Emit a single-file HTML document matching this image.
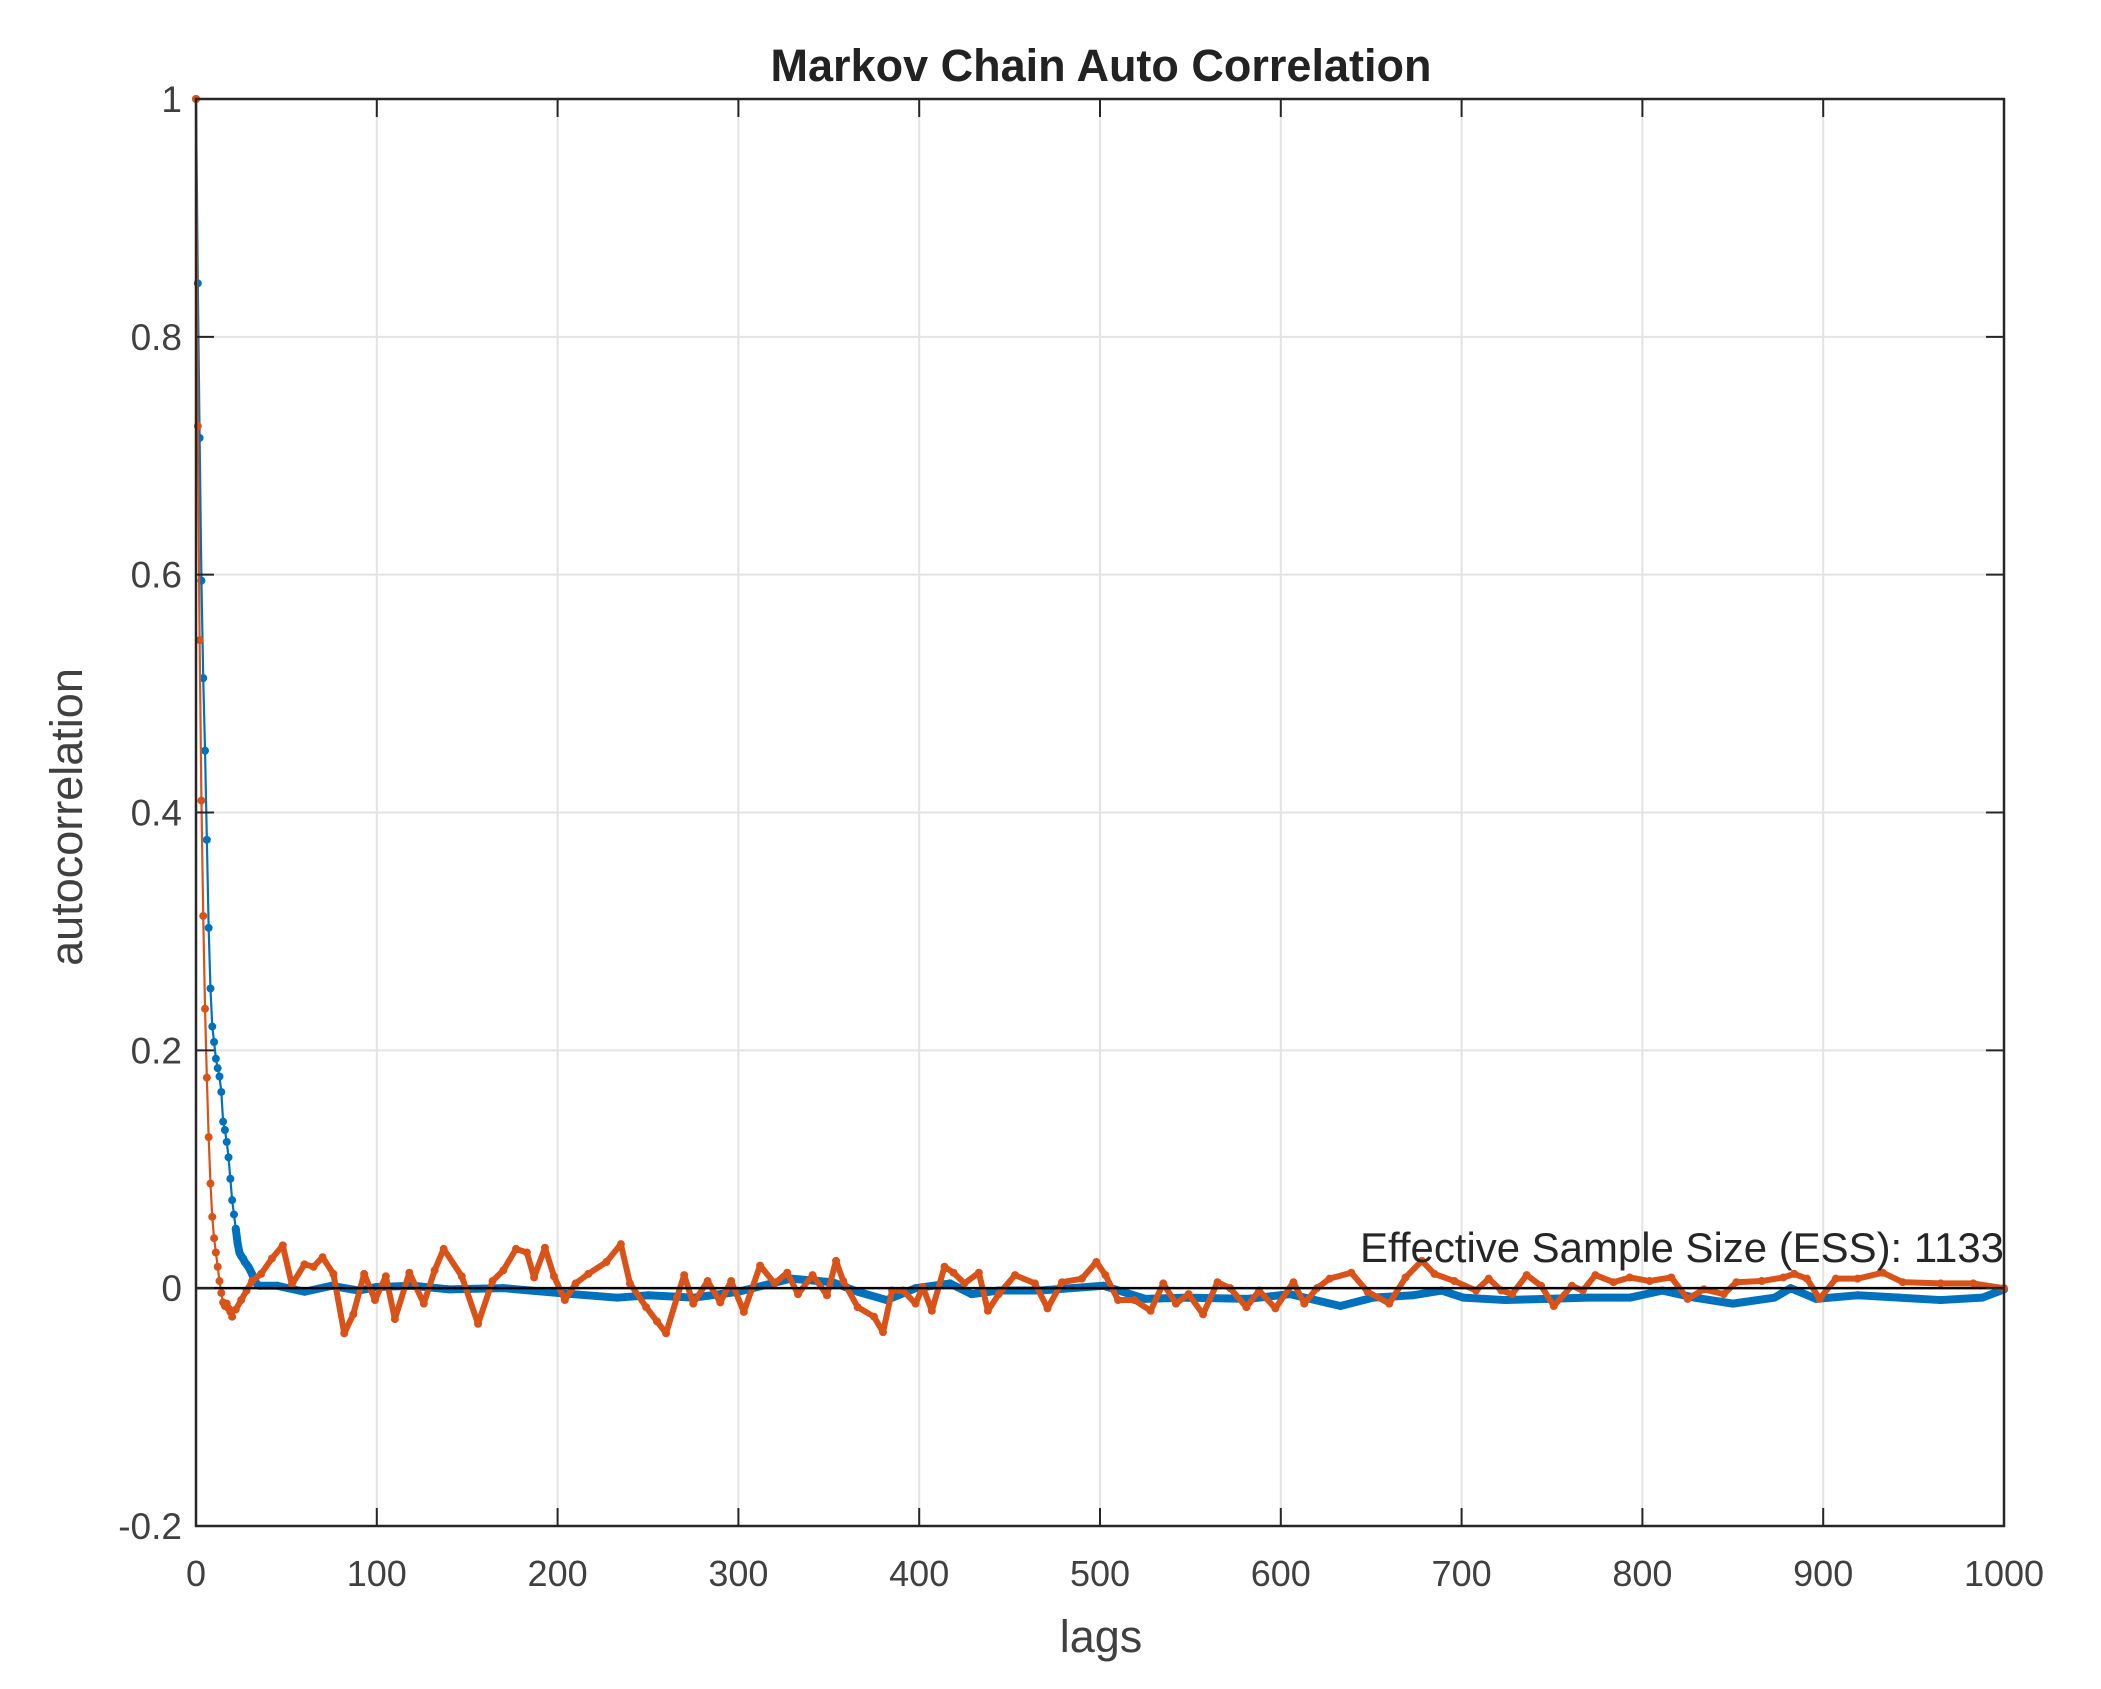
<!DOCTYPE html>
<html><head><meta charset="utf-8"><style>
html,body{margin:0;padding:0;background:#fff;}
svg{display:block;font-family:"Liberation Sans",Arial,sans-serif;}
</style></head><body>
<svg id="chart" width="2101" height="1689" viewBox="0 0 2101 1689" xmlns="http://www.w3.org/2000/svg">
<rect x="0" y="0" width="2101" height="1689" fill="#fff"/>
<g id="grid"></g>
<g id="series"></g>
<g id="axes"></g>
<text x="1101" y="81" text-anchor="middle" font-size="45" font-weight="bold" fill="#222">Markov Chain Auto Correlation</text>
<text x="1101" y="1652" text-anchor="middle" font-size="45" fill="#404040">lags</text>
<text x="0" y="0" transform="translate(82,817) rotate(-90)" text-anchor="middle" font-size="45" fill="#404040">autocorrelation</text>
<text x="2004" y="1262" text-anchor="end" font-size="42" textLength="644" lengthAdjust="spacingAndGlyphs" fill="#262626">Effective Sample Size (ESS): 1133</text>
</svg>
<script>
const xTicks = [0,100,200,300,400,500,600,700,800,900,1000];
const yTicks = [-0.2,0,0.2,0.4,0.6,0.8,1];
const yTickLabels = ["-0.2","0","0.2","0.4","0.6","0.8","1"];
const blueLags = [0,1,2,3,4,5,6,7,8,9,10,11,12,13,14,15,16,17,18,19,20,21,22,23,24,25,26,27,28,29,30,31,32,33,34,35,45,60,75,90,100,120,140,170,200,233,250,275,300,329,352,366,382,398,417,429,444,467,502,525,548,582,605,633,651,673,689,701,724,747,770,793,811,829,850,873,882,896,919,942,965,988,1000];
const blueValues = [1,0.845,0.715,0.595,0.513,0.452,0.377,0.303,0.252,0.22,0.207,0.193,0.185,0.178,0.165,0.14,0.133,0.123,0.11,0.092,0.074,0.062,0.05,0.038,0.03,0.027,0.025,0.022,0.02,0.018,0.015,0.012,0.008,0.005,0.003,0.002,0.002,-0.003,0.002,-0.002,0.001,0.002,-0.001,0,-0.004,-0.008,-0.006,-0.008,-0.003,0.008,0.005,-0.003,-0.01,0,0.004,-0.005,-0.002,-0.002,0.002,-0.009,-0.008,-0.009,-0.005,-0.015,-0.008,-0.006,-0.002,-0.008,-0.01,-0.009,-0.008,-0.008,-0.002,-0.008,-0.013,-0.008,0,-0.009,-0.006,-0.008,-0.01,-0.008,-0.001];
const orangeLags = [0,1,2,3,4,5,6,7,8,9,10,11,12,13,14,15,16,17,18,19,20,22,25,28,31,36,42,48,53,60,65,70,76,82,87,93,99,105,110,118,126,132,137,147,156,164,170,177,183,187,193,198,204,210,217,227,235,240,249,255,260,266,270,275,283,290,296,303,312,320,327,333,341,349,354,358,366,375,380,385,391,398,402,407,414,419,425,433,438,444,453,464,471,479,490,498,503,510,519,528,535,542,549,557,565,572,581,588,597,607,613,620,627,639,648,660,669,678,685,696,708,715,722,728,736,744,751,761,767,774,784,793,804,816,825,834,845,852,866,878,884,891,898,907,919,933,944,965,983,1000];
const orangeValues = [1,0.725,0.545,0.41,0.313,0.235,0.177,0.127,0.088,0.06,0.042,0.03,0.018,0.006,-0.004,-0.012,-0.015,-0.013,-0.017,-0.02,-0.024,-0.018,-0.01,-0.002,0.006,0.012,0.025,0.036,0.003,0.02,0.018,0.026,0.012,-0.038,-0.022,0.012,-0.01,0.01,-0.026,0.013,-0.013,0.015,0.033,0.01,-0.03,0.006,0.015,0.033,0.03,0.009,0.034,0.01,-0.01,0.004,0.012,0.022,0.037,0.004,-0.016,-0.028,-0.038,-0.008,0.011,-0.013,0.006,-0.012,0.006,-0.02,0.019,0.004,0.013,-0.005,0.011,-0.006,0.023,0.006,-0.016,-0.024,-0.037,-0.002,-0.002,-0.013,0.001,-0.019,0.018,0.013,0.004,0.013,-0.019,-0.005,0.011,0.004,-0.017,0.005,0.008,0.022,0.011,-0.01,-0.01,-0.019,0.004,-0.013,-0.005,-0.022,0.005,0,-0.016,-0.002,-0.017,0.005,-0.013,0,0.008,0.013,-0.003,-0.013,0.009,0.023,0.012,0.006,-0.002,0.008,-0.002,-0.005,0.011,0.002,-0.015,0.002,-0.002,0.011,0.005,0.009,0.006,0.009,-0.009,-0.001,-0.005,0.005,0.006,0.009,0.012,0.008,-0.009,0.008,0.008,0.013,0.005,0.004,0.004,0];

const L=196,R=2004,T=99,B=1526;
const xS = v => L + (v/1000)*(R-L);
const yS = v => B - ((v+0.2)/1.2)*(B-T);
const NS='http://www.w3.org/2000/svg';
function mk(tag, attrs, parent){const e=document.createElementNS(NS,tag);for(const k in attrs)e.setAttribute(k,attrs[k]);parent.appendChild(e);return e;}
const grid=document.getElementById('grid'), axes=document.getElementById('axes'), ser=document.getElementById('series');

xTicks.forEach(t=>{
  const g=mk('line',{x1:xS(t),x2:xS(t),y1:T,y2:B,stroke:'#e3e3e3','stroke-width':2},grid);
  
  
  const lab=mk('text',{x:xS(t),y:1586,'text-anchor':'middle','font-size':36,fill:'#404040'},axes);
  lab.textContent=t;
  
  
  mk('line',{x1:xS(t),x2:xS(t),y1:B,y2:B-18,stroke:'#262626','stroke-width':2},axes);
  mk('line',{x1:xS(t),x2:xS(t),y1:T,y2:T+18,stroke:'#262626','stroke-width':2},axes);
});
yTicks.forEach((t,i)=>{
  const g=mk('line',{x1:L,x2:R,y1:yS(t),y2:yS(t),stroke:'#e3e3e3','stroke-width':2},grid);
  
  
  const lab=mk('text',{x:182,y:yS(t)+13,'text-anchor':'end','font-size':37,fill:'#404040'},axes);
  lab.textContent=yTickLabels[i];
  
  
  mk('line',{x1:L,x2:L+18,y1:yS(t),y2:yS(t),stroke:'#262626','stroke-width':2},axes);
  mk('line',{x1:R,x2:R-18,y1:yS(t),y2:yS(t),stroke:'#262626','stroke-width':2},axes);
});
const frame=mk('rect',{x:L,y:T,width:R-L,height:B-T,fill:'none',stroke:'#262626','stroke-width':2.5},axes);



function drawSeries(lags, vals, color, name, tw){
  const g=mk('g',{},ser);
  
  
  const pts=lags.map((l,i)=>xS(l)+','+yS(vals[i]));
  const thick=lags.map((l,i)=>l>=22?xS(l)+','+yS(vals[i]):null).filter(p=>p);
  mk('polyline',{points:thick.join(' '),fill:'none',stroke:color,'stroke-width':tw,'stroke-linejoin':'round','stroke-linecap':'round'},g);
  mk('polyline',{points:pts.join(' '),fill:'none',stroke:color,'stroke-width':2.2,'stroke-linejoin':'round'},g);
  lags.forEach((l,i)=>{
    const c=mk('circle',{cx:xS(l),cy:yS(vals[i]),r:4,fill:color},g);
    
    
  });
}
drawSeries(blueLags, blueValues, '#0072bd', 'blue-series', 8);
drawSeries(orangeLags, orangeValues, '#d95319', 'orange-series', 6);
const z=mk('line',{x1:L,x2:R,y1:yS(0),y2:yS(0),stroke:'#000','stroke-width':2.5},ser);


</script>
</body></html>
